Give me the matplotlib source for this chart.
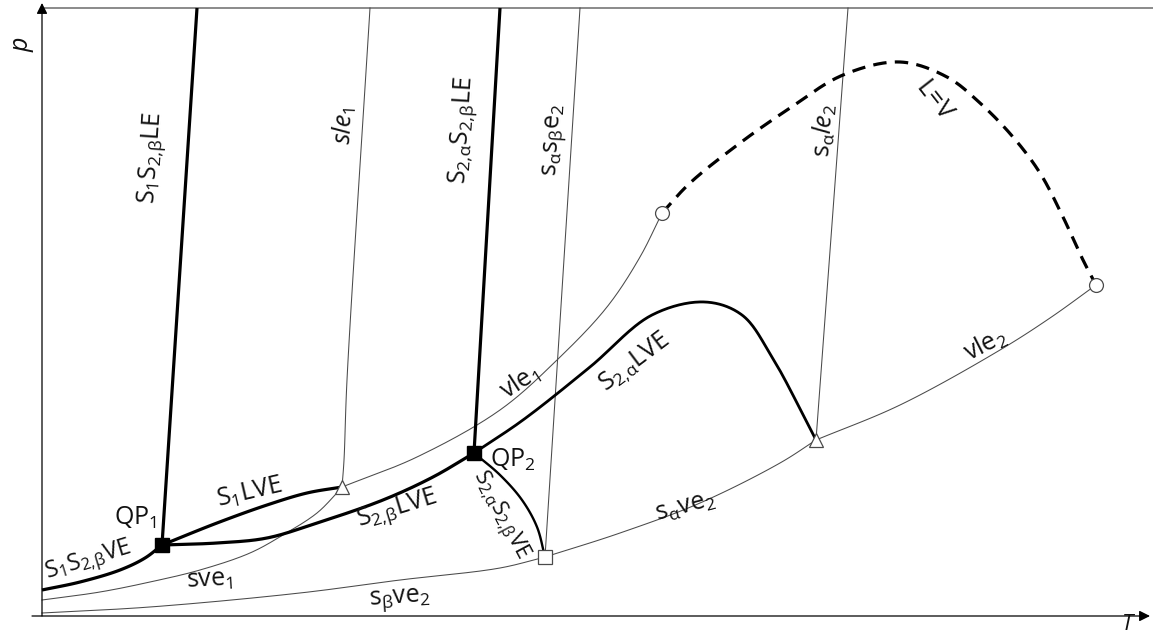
import numpy as np
import matplotlib
matplotlib.use("Agg")
import matplotlib.pyplot as plt

plt.rcParams['font.family'] = ['Open Sans', 'DejaVu Sans']
plt.rcParams['mathtext.fontset'] = 'custom'
plt.rcParams['mathtext.rm'] = 'Open Sans'
plt.rcParams['mathtext.it'] = 'Open Sans:italic'

# ---- data (schematic p-T diagram; T to the right, p upward) ----
QP1 = (120, 70)
QP2 = (432, 162)
TRI1 = (300, 128)
TRI2 = (774, 175)
SQ = (503, 58)
CIRC1 = (620, 402)
CIRC2 = (1054, 330)

s1s2b_ve_T = [0, 38, 78, 103, 120]
s1s2b_ve_p = [25, 33, 45, 57, 70]

s1s2b_le_T = [120, 155]
s1s2b_le_p = [70, 607]

s2as2b_le_T = [432, 458]
s2as2b_le_p = [162, 607]

s1lve_T = [120, 175, 225, 265, 300]
s1lve_p = [70, 92, 110, 122, 128]

s2blve_T = [120, 175, 225, 275, 341, 391, 432]
s2blve_p = [70, 72, 77, 92, 115, 138, 162]

s2alve_T = [432, 481, 548, 610, 663, 700, 730, 774]
s2alve_p = [162, 195, 248, 300, 313, 300, 258, 175]

s2as2b_ve_T = [432, 458, 480, 495, 503]
s2as2b_ve_p = [162, 140, 115, 88, 58]

sle1_T = [300, 302, 305, 328]
sle1_p = [128, 155, 235, 607]

sasbe2_T = [503, 538]
sasbe2_p = [58, 607]

sale2_T = [774, 806]
sale2_p = [175, 607]

sve1_T = [0, 58, 108, 158, 208, 241, 275, 293, 300]
sve1_p = [15, 23, 33, 45, 62, 80, 102, 120, 128]

vle1_T = [300, 375, 458, 515, 565, 598, 620]
vle1_p = [128, 158, 205, 255, 308, 358, 402]

lv_T = [620, 648, 698, 748, 801, 858, 905, 938, 971, 998, 1021, 1041, 1054]
lv_p = [402, 432, 472, 507, 540, 553, 538, 512, 478, 442, 398, 355, 330]

vle2_T = [774, 858, 958, 1008, 1054]
vle2_p = [175, 210, 265, 297, 330]

save2_T = [503, 578, 658, 738, 774]
save2_p = [58, 82, 112, 152, 175]

sbve2_T = [0, 108, 258, 358, 458, 503]
sbve2_p = [2, 8, 22, 35, 47, 58]


def smooth(xs, ys, n=30, alpha=0.5):
    """Centripetal Catmull-Rom curve through the given points."""
    P = np.column_stack([xs, ys]).astype(float)
    if len(P) < 3:
        return P[:, 0], P[:, 1]
    P = np.vstack([2 * P[0] - P[1], P, 2 * P[-1] - P[-2]])
    out = []
    for i in range(1, len(P) - 2):
        p0, p1, p2, p3 = P[i - 1], P[i], P[i + 1], P[i + 2]
        t0 = 0.0
        t1 = t0 + np.linalg.norm(p1 - p0) ** alpha
        t2 = t1 + np.linalg.norm(p2 - p1) ** alpha
        t3 = t2 + np.linalg.norm(p3 - p2) ** alpha
        t = np.linspace(t1, t2, n, endpoint=False)[:, None]
        A1 = (t1 - t) / (t1 - t0) * p0 + (t - t0) / (t1 - t0) * p1
        A2 = (t2 - t) / (t2 - t1) * p1 + (t - t1) / (t2 - t1) * p2
        A3 = (t3 - t) / (t3 - t2) * p2 + (t - t2) / (t3 - t2) * p3
        B1 = (t2 - t) / (t2 - t0) * A1 + (t - t0) / (t2 - t0) * A2
        B2 = (t3 - t) / (t3 - t1) * A2 + (t - t1) / (t3 - t1) * A3
        C = (t2 - t) / (t2 - t1) * B1 + (t - t1) / (t2 - t1) * B2
        out.append(C)
    out.append(P[-2][None, :])
    out = np.vstack(out)
    return out[:, 0], out[:, 1]


fig = plt.figure(figsize=(11.53, 6.37), dpi=100)
ax = fig.add_axes([0, 0, 1, 1])
ax.set_xlim(-42, 1111)
ax.set_ylim(-22, 615)
ax.axis('off')

THICK = 2.3
THIN = 0.75
GRAY = '#4a4a4a'

# axes with arrows
ax.plot([0, 1111], [607, 607], color='#777777', lw=1.2, zorder=1)
ax.annotate('', xy=(0, 612), xytext=(0, -1),
            arrowprops=dict(arrowstyle='-|>', color='k', lw=0.9, mutation_scale=16, shrinkA=0, shrinkB=0))
ax.annotate('', xy=(1108, -1), xytext=(-10, -1),
            arrowprops=dict(arrowstyle='-|>', color='k', lw=0.9, mutation_scale=16, shrinkA=0, shrinkB=0))

# thin lines
for xs, ys in [(sle1_T, sle1_p), (sasbe2_T, sasbe2_p), (sale2_T, sale2_p), (sve1_T, sve1_p),
               (vle1_T, vle1_p), (vle2_T, vle2_p), (save2_T, save2_p), (sbve2_T, sbve2_p)]:
    x, y = smooth(xs, ys)
    ax.plot(x, y, color=GRAY, lw=THIN, zorder=2)

# thick lines
for xs, ys in [(s1s2b_ve_T, s1s2b_ve_p), (s1s2b_le_T, s1s2b_le_p), (s2as2b_le_T, s2as2b_le_p),
               (s1lve_T, s1lve_p), (s2blve_T, s2blve_p)]:
    x, y = smooth(xs, ys)
    ax.plot(x, y, color='k', lw=THICK, solid_capstyle='butt', zorder=3)
x, y = smooth(s2alve_T, s2alve_p)
ax.plot(x, y, color='k', lw=2.0, zorder=3)
x, y = smooth(s2as2b_ve_T, s2as2b_ve_p)
ax.plot(x, y, color='k', lw=1.7, zorder=3)
x, y = smooth(lv_T, lv_p)
ax.plot(x, y, color='k', lw=THICK, dashes=(4.2, 2.6), zorder=3)

# markers
ax.plot(*zip(QP1, QP2), ls='none', marker='s', ms=10, color='k', zorder=5)
ax.plot(*zip(TRI1, TRI2), ls='none', marker='^', ms=10, mfc='white', mec=GRAY, mew=0.9, zorder=5)
ax.plot([SQ[0]], [SQ[1]], ls='none', marker='s', ms=10, mfc='white', mec=GRAY, mew=0.9, zorder=5)
ax.plot(*zip(CIRC1, CIRC2), ls='none', marker='o', ms=10, mfc='white', mec=GRAY, mew=0.9, zorder=5)

FS = 18
def lab(xy, s, rot=0, fs=FS, **kw):
    ax.text(xy[0], xy[1], s, rotation=rot, fontsize=fs, ha='center', va='center',
            rotation_mode='anchor', color='#111111', **kw)

lab((-20, 570), 'p', 90, style='italic')
ax.text(1086, -15, 'T', fontsize=16, style='italic', ha='center', va='baseline', color='#111111')
lab((110, 457), r'$\mathregular{S_1S_{2{,}β}LE}$', 86)
lab((302, 490), r'$\mathit{sle}_{\mathit{1}}$', 87)
lab((421, 485), r'$\mathregular{S_{2{,}α}S_{2{,}β}LE}$', 86.5)
lab((513, 475), r'$\mathregular{s_α s_β e_2}$', 86.5)
lab((782, 485), r'$\mathregular{s_α}\mathit{le}_{\mathit{2}}$', 86)
lab((893, 515), r'$\mathregular{L\!=\!V}$', -52)
lab((478, 233), r'$\mathregular{vle_1}$', 33)
lab((593, 252), r'$\mathregular{S_{2{,}α}LVE}$', 37)
lab((943, 270), r'$\mathregular{vle_2}$', 27)
lab((208, 122), r'$\mathregular{S_1LVE}$', 13)
lab((93, 97), r'$\mathregular{QP_1}$', 0)
lab((46, 54), r'$\mathregular{S_1S_{2{,}β}VE}$', 17, fs=17)
lab((355, 105), r'$\mathregular{S_{2{,}β}LVE}$', 17)
lab((471, 155), r'$\mathregular{QP_2}$', 0)
lab((457, 100), r'$\mathregular{S_{2{,}α}S_{2{,}β}VE}$', -62, fs=16)
lab((168, 35), r'$\mathregular{sve_1}$', 3)
lab((643, 108), r'$\mathregular{s_α ve_2}$', 15)
lab((358, 15), r'$\mathregular{s_β ve_2}$', 4)

fig.savefig('out.png', dpi=100, facecolor='white')
